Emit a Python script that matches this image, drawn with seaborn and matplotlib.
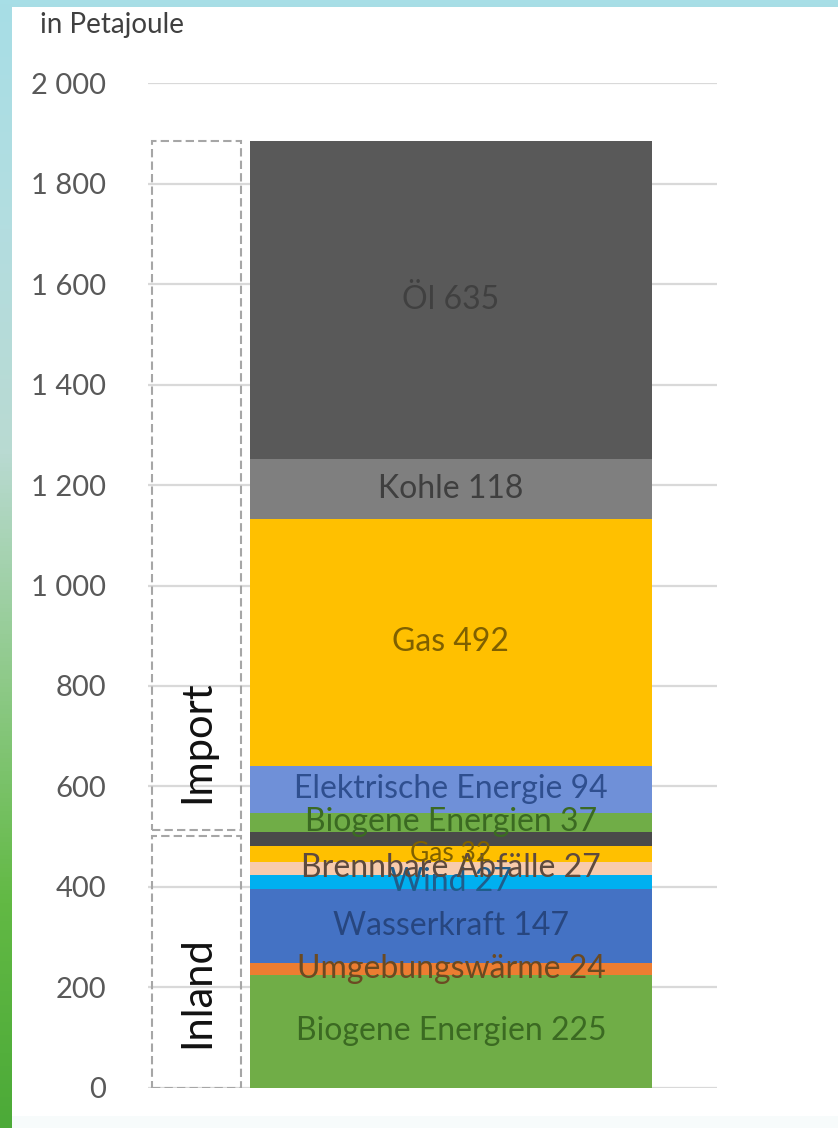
import matplotlib
matplotlib.use('Agg')
import matplotlib.pyplot as plt
import matplotlib.transforms as mtransforms
from matplotlib.colors import LinearSegmentedColormap
from matplotlib.patches import Rectangle
from matplotlib.ticker import FuncFormatter
import numpy as np
import pandas as pd
import seaborn as sns

# Energieaufkommen in Petajoule, Segmente von unten nach oben
herkunft = ['Inland'] * 7 + ['Import'] * 5
traeger = ['Biogene Energien', 'Umgebungswärme', 'Wasserkraft', 'Wind',
           'Brennbare Abfälle', 'Gas', 'Öl',
           'Biogene Energien', 'Elektrische Energie', 'Gas', 'Kohle', 'Öl']
werte = [225, 24, 147, 27, 27, 32, 28, 37, 94, 492, 118, 635]
farben = ['#70AD47', '#ED7D31', '#4472C4', '#00B0F0', '#F8CBAD', '#FFC000', '#4a4a4a',
          '#70AD47', '#6F90D8', '#FFC000', '#7F7F7F', '#595959']
textfarben = ['#3b6a22', '#6b4a22', '#27467f', '#1f5d8c', '#5e4a3e', '#7f6000', '#3a3a3a',
              '#3b6a22', '#2f4f8f', '#7f6000', '#3f3f3f', '#404040']
beschriftung = [True, True, True, True, True, True, False, True, True, True, True, True]
schrift = [23, 23, 23, 23, 23, 19, 17, 23, 23, 23, 23, 23]

df = pd.DataFrame({'herkunft': herkunft, 'traeger': traeger, 'wert': werte,
                   'farbe': farben, 'textfarbe': textfarben})
df['oben'] = df['wert'].cumsum()
df['unten'] = df['oben'] - df['wert']
df['balken'] = 'Energie'

sns.set_theme(style='white')
plt.rcParams['font.family'] = ['Lato', 'DejaVu Sans']

fig = plt.figure(figsize=(8.38, 11.28), dpi=100)

# Hintergrund: Verlauf hinter weisser Flaeche
bg = fig.add_axes([0, 0, 1, 1], zorder=-2)
verlauf = LinearSegmentedColormap.from_list('bg', ['#a7dee6', '#b3dde0', '#b9dad2', '#8fca8a', '#62b944', '#4caa38'])
bg.imshow(np.linspace(0, 1, 256).reshape(-1, 1), aspect='auto', cmap=verlauf, extent=[0, 1, 0, 1])
bg.axis('off')
fig.patches.append(Rectangle((12 / 838, 0), 1, 1 - 7 / 1128, transform=fig.transFigure,
                             facecolor='white', edgecolor='none', zorder=-1))
fig.patches.append(Rectangle((12 / 838, 0), 1, 12 / 1128, transform=fig.transFigure,
                             facecolor='#f7fbfb', edgecolor='none', zorder=-1))

ax = fig.add_axes([148 / 838, (1128 - 1087.7) / 1128, 569 / 838, 1004.4 / 1128])
ax.set_facecolor('none')

# gestapelter Balken: hoechste Summe zuerst zeichnen
for i in reversed(range(len(df))):
    sns.barplot(data=df.iloc[[i]], x='balken', y='oben', color=df['farbe'][i],
                saturation=1, width=0.8, linewidth=0, ax=ax, zorder=3)

for i, row in df.iterrows():
    if beschriftung[i]:
        ax.text(0, row['unten'] + row['wert'] / 2, f"{row['traeger']} {row['wert']}",
                ha='center', va='center', fontsize=schrift[i], color=row['textfarbe'], zorder=5)

ax.set_ylim(0, 2000)
ax.set_xlim(-0.6028, 0.5295)
ax.set_yticks(range(0, 2001, 200))
ax.yaxis.set_major_formatter(FuncFormatter(lambda v, p: f"{int(v):,}".replace(',', ' ')))
ax.tick_params(axis='y', length=0, pad=30, labelsize=21, labelcolor='#595959')
ax.set_xticks([])
ax.set_xlabel('')
ax.set_ylabel('')
ax.grid(axis='y', color='#d9d9d9', linewidth=1.6, zorder=0)
ax.set_axisbelow(True)
for s in ax.spines.values():
    s.set_visible(False)

# gestrichelte Kaesten fuer Inland / Import
inland = df.loc[df['herkunft'] == 'Inland', 'wert'].sum()
gesamt = df['wert'].sum()
trans = mtransforms.blended_transform_factory(ax.transAxes, ax.transData)
for y0, y1 in [(0, inland - 8), (inland + 4, gesamt)]:
    ax.add_patch(Rectangle((0.007, y0), 0.156, y1 - y0, transform=trans, fill=False,
                           edgecolor='#a6a6a6', linestyle=(0, (4, 2)), linewidth=1.5, zorder=4))
ax.text(0.086, 688, 'Import', transform=trans, rotation=90, ha='center', va='center',
        fontsize=30, color='#111111')
ax.text(0.086, 190, 'Inland', transform=trans, rotation=90, ha='center', va='center',
        fontsize=30, color='#111111')

fig.text(40 / 838, 1 - 25 / 1128, 'in Petajoule', ha='left', va='center', fontsize=20, color='#404040')

fig.savefig('out.png', dpi=100)
